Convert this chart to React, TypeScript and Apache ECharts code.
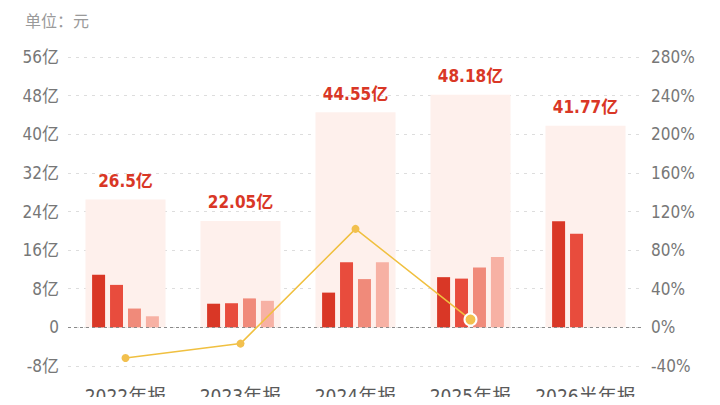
import { useEffect, useRef } from 'react';
import * as echarts from 'echarts';

const categories = ['2022年报', '2023年报', '2024年报', '2025年报', '2026半年报'];
const totals = [26.5, 22.05, 44.55, 48.18, 41.77];
const q1 = [10.9, 4.9, 7.2, 10.4, 22.0];
const q2 = [8.8, 5.0, 13.5, 10.1, 19.4];
const q3 = [3.9, 6.0, 10.0, 12.4, null];
const q4 = [2.3, 5.5, 13.5, 14.6, null];
const growth = [-31.8, -16.8, 102.0, 8.1, null];

const quarterColors = ['#d93726', '#e84c3d', '#f08a7a', '#f7b1a4'];
const labelFont = "'DejaVu Sans Condensed', 'Noto Sans CJK SC', sans-serif";

export default function App() {
  const chartRef = useRef<HTMLDivElement>(null);

  useEffect(() => {
    if (!chartRef.current) return;
    const chart = echarts.init(chartRef.current, null, { renderer: 'svg' });

    const quarterSeries = [q1, q2, q3, q4].map((values, i) => ({
      name: `Q${i + 1}`,
      type: 'bar' as const,
      xAxisIndex: 0,
      yAxisIndex: 0,
      data: values,
      barWidth: 13,
      barGap: '38%',
      itemStyle: { color: quarterColors[i] },
      z: 3,
    }));

    chart.setOption({
      animation: false,
      graphic: [
        {
          type: 'text',
          left: 25,
          top: 12,
          style: {
            text: '单位：元',
            fill: '#9a9a9a',
            fontSize: 16,
            fontFamily: "'Noto Sans CJK SC', sans-serif",
          },
        },
      ],
      grid: { left: 68, right: 77, top: 57, bottom: 36, containLabel: false },
      xAxis: [
        {
          type: 'category',
          data: categories,
          axisLine: { show: false },
          axisTick: { show: false },
          axisLabel: {
            interval: 0,
            color: '#5a5a5a',
            fontSize: 19,
            margin: 20,
            fontFamily: labelFont,
          },
        },
        {
          type: 'category',
          data: categories,
          show: false,
        },
      ],
      yAxis: [
        {
          type: 'value',
          min: -8,
          max: 56,
          interval: 8,
          axisLine: { show: false },
          axisTick: { show: false },
          axisLabel: {
            color: '#777777',
            fontSize: 17,
            margin: 9,
            fontFamily: labelFont,
            formatter: (v: number) => (v === 0 ? '0' : `${v}亿`),
          },
          splitLine: {
            lineStyle: { color: '#dddddd', type: [3, 5] },
          },
        },
        {
          type: 'value',
          min: -40,
          max: 280,
          interval: 40,
          axisLine: { show: false },
          axisTick: { show: false },
          axisLabel: {
            color: '#777777',
            fontSize: 17,
            margin: 8,
            fontFamily: labelFont,
            formatter: (v: number) => `${v}%`,
          },
          splitLine: { show: false },
        },
      ],
      series: [
        {
          name: '总额',
          type: 'bar',
          xAxisIndex: 1,
          yAxisIndex: 0,
          data: totals,
          barWidth: 80,
          itemStyle: { color: '#fef0ec' },
          label: {
            show: true,
            position: 'top',
            distance: 10,
            color: '#d93726',
            fontSize: 17,
            fontWeight: 'bold',
            fontFamily: labelFont,
            formatter: (p: { value: number }) => `${p.value}亿`,
          },
          z: 1,
        },
        ...quarterSeries,
        {
          name: '零线',
          type: 'line',
          xAxisIndex: 0,
          yAxisIndex: 0,
          data: [],
          markLine: {
            silent: true,
            symbol: 'none',
            label: { show: false },
            lineStyle: { color: '#8a8a8a', type: [3, 3], width: 1 },
            data: [{ yAxis: 0 }],
          },
          z: 4,
        },
        {
          name: '增长率',
          type: 'line',
          xAxisIndex: 0,
          yAxisIndex: 1,
          data: growth.map((v, i) =>
            i === 3
              ? {
                  value: v,
                  symbolSize: 12,
                  itemStyle: { color: '#f2c04e', borderColor: '#ffffff', borderWidth: 2 },
                }
              : v
          ),
          symbol: 'circle',
          symbolSize: 8,
          lineStyle: { color: '#f0c040', width: 1.5 },
          itemStyle: { color: '#f2c04e' },
          z: 5,
        },
      ],
    });

    return () => {
      chart.dispose();
    };
  }, []);

  return <div ref={chartRef} style={{ width: 720, height: 405, margin: -8 }} />;
}
